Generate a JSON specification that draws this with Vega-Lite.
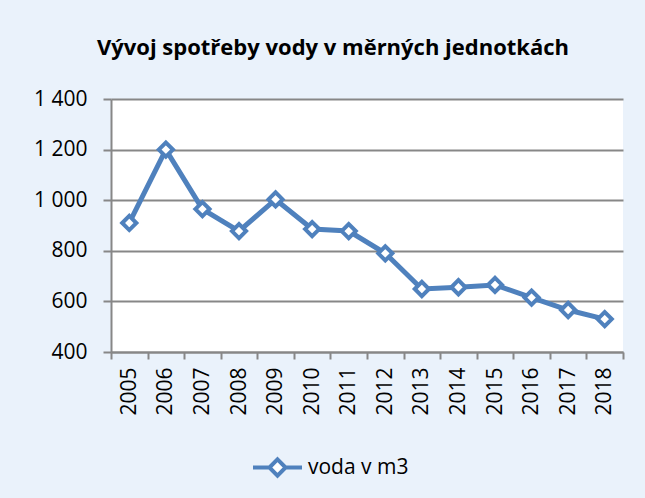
{
  "$schema": "https://vega.github.io/schema/vega-lite/v6.json",
  "width": 512,
  "height": 253,
  "autosize": {"type": "none"},
  "padding": {"left": 111, "top": 99, "right": 22, "bottom": 146},
  "background": "#EAF2FB",
  "config": {"view": {"stroke": null, "fill": "white"}},
  "title": {
    "text": "Vývoj spotřeby vody v měrných jednotkách",
    "font": "Open Sans",
    "fontSize": 22,
    "fontWeight": "bold",
    "color": "black",
    "anchor": "middle",
    "frame": "group",
    "dx": -34,
    "offset": 28
  },
  "data": {
    "values": [
      {"rok": "2005", "voda": 910, "serie": "voda v m3"},
      {"rok": "2006", "voda": 1200, "serie": "voda v m3"},
      {"rok": "2007", "voda": 965, "serie": "voda v m3"},
      {"rok": "2008", "voda": 878, "serie": "voda v m3"},
      {"rok": "2009", "voda": 1003, "serie": "voda v m3"},
      {"rok": "2010", "voda": 886, "serie": "voda v m3"},
      {"rok": "2011", "voda": 878, "serie": "voda v m3"},
      {"rok": "2012", "voda": 790, "serie": "voda v m3"},
      {"rok": "2013", "voda": 649, "serie": "voda v m3"},
      {"rok": "2014", "voda": 656, "serie": "voda v m3"},
      {"rok": "2015", "voda": 665, "serie": "voda v m3"},
      {"rok": "2016", "voda": 615, "serie": "voda v m3"},
      {"rok": "2017", "voda": 566, "serie": "voda v m3"},
      {"rok": "2018", "voda": 530, "serie": "voda v m3"}
    ]
  },
  "encoding": {
    "x": {
      "field": "rok",
      "type": "ordinal",
      "scale": {"type": "band", "paddingInner": 0, "paddingOuter": 0},
      "axis": {
        "title": null,
        "labelAngle": -90,
        "labelFont": "Open Sans",
        "labelFontSize": 21,
        "labelColor": "black",
        "tickBand": "extent",
        "tickSize": 7,
        "tickColor": "#878787",
        "tickWidth": 2,
        "domainColor": "#878787",
        "domainWidth": 2,
        "labelPadding": 8,
        "grid": false
      }
    },
    "y": {
      "field": "voda",
      "type": "quantitative",
      "scale": {"domain": [400, 1400], "nice": false, "zero": false},
      "axis": {
        "title": null,
        "values": [400, 600, 800, 1000, 1200, 1400],
        "labelExpr": "replace(format(datum.value, ','), ',', ' ')",
        "labelFont": "Open Sans",
        "labelFontSize": 21,
        "labelColor": "black",
        "gridColor": "#878787",
        "gridWidth": 2,
        "domainColor": "#878787",
        "domainWidth": 2,
        "tickColor": "#878787",
        "tickWidth": 2,
        "tickSize": 8,
        "labelPadding": 16
      }
    },
    "color": {
      "field": "serie",
      "type": "nominal",
      "scale": {"range": ["#4F81BD"]},
      "legend": {
        "title": null,
        "orient": "none",
        "legendX": 140,
        "legendY": 342,
        "symbolType": "M-1,0H-0.33M0.33,0H1M0,-0.33L0.33,0L0,0.33L-0.33,0Z",
        "symbolSize": 2400,
        "symbolStrokeWidth": 4,
        "symbolStrokeColor": "#4F81BD",
        "symbolFillColor": "white",
        "labelFont": "Open Sans",
        "labelFontSize": 21,
        "labelColor": "black",
        "labelOffset": 4,
        "encode": {
          "symbols": {
            "update": {
              "fill": {"value": "white"},
              "stroke": {"value": "#4F81BD"},
              "strokeWidth": {"value": 4},
              "opacity": {"value": 1}
            }
          }
        }
      }
    }
  },
  "layer": [
    {"mark": {"type": "line", "strokeWidth": 5}},
    {"mark": {"type": "point", "shape": "diamond", "filled": false, "fill": "white", "size": 200, "strokeWidth": 4, "opacity": 1}}
  ]
}
